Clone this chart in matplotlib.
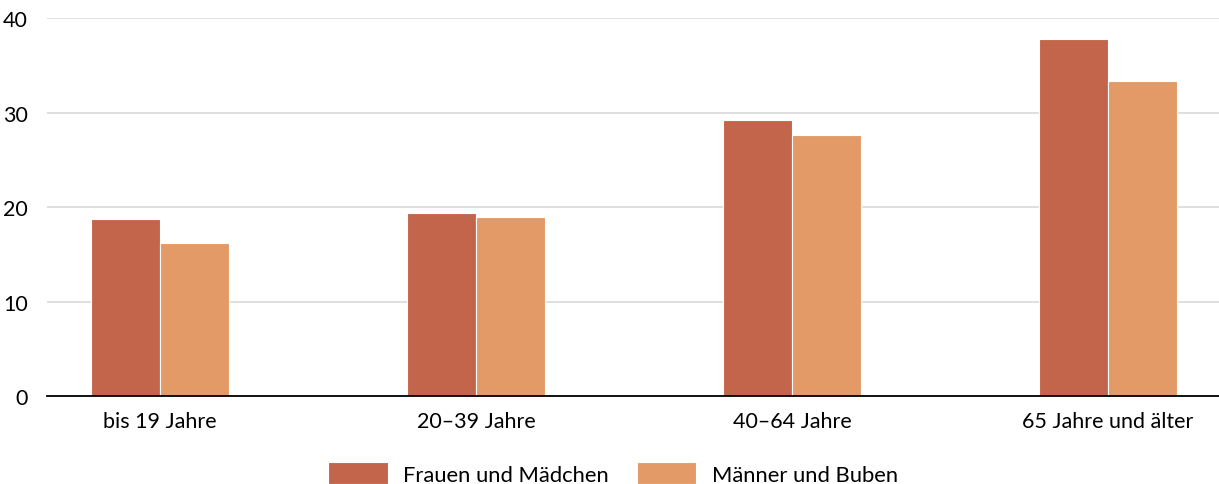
import matplotlib.pyplot as plt
import numpy as np

plt.rcParams['font.family'] = ['Lato', 'DejaVu Sans']

categories = ["bis 19 Jahre", "20–39 Jahre", "40–64 Jahre", "65 Jahre und älter"]
frauen = [18.8, 19.4, 29.2, 37.8]
maenner = [16.2, 19.0, 27.7, 33.4]
series_names = ["Frauen und Mädchen", "Männer und Buben"]
colors = ["#C3654A", "#E39A66"]

fig = plt.figure(figsize=(12.19, 4.85), dpi=100)
ax = fig.add_axes([0.0386, 0.181, 0.9614, 0.779])

x = np.arange(len(categories))
w = 0.218
ax.bar(x - w / 2, frauen, w, color=colors[0], edgecolor="white", linewidth=0.8,
       label=series_names[0], zorder=3)
ax.bar(x + w / 2, maenner, w, color=colors[1], edgecolor="white", linewidth=0.8,
       label=series_names[1], zorder=3)

ax.set_ylim(0, 40)
ax.set_xlim(-0.358, 3.351)
ax.set_yticks([0, 10, 20, 30, 40])
ax.set_xticks(x)
ax.set_xticklabels(categories)
ax.tick_params(axis="both", length=0, labelsize=15.5)
ax.tick_params(axis="y", pad=14)
ax.tick_params(axis="x", pad=11)

ax.grid(axis="y", color="#d9d9d9", linewidth=1.2, zorder=0)
for s in ["top", "right", "left"]:
    ax.spines[s].set_visible(False)
ax.spines["bottom"].set_color("black")
ax.spines["bottom"].set_linewidth(1.3)
ax.spines["bottom"].set_zorder(4)

fig.legend(loc="lower center", bbox_to_anchor=(0.503, -0.042), ncol=2, frameon=False,
           fontsize=15.8, handlelength=2.7, handleheight=1.16, handletextpad=0.7,
           columnspacing=1.3)

fig.savefig("out.png", dpi=100)
